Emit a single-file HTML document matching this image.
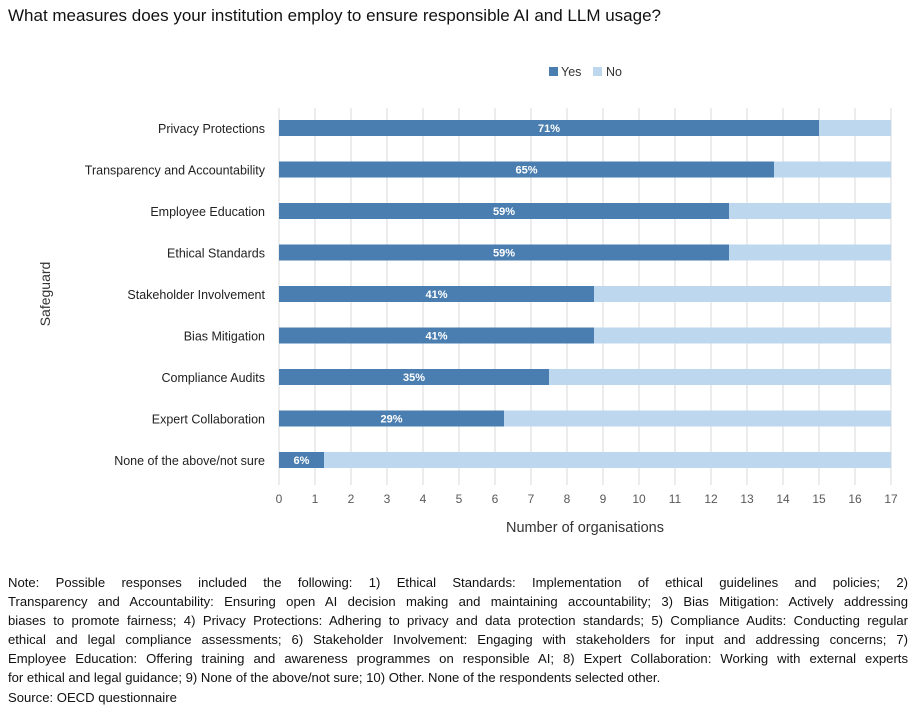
<!DOCTYPE html>
<html><head><meta charset="utf-8"><style>
body{margin:0;background:#fff;width:920px;height:728px;overflow:hidden;font-family:"Liberation Sans",sans-serif;}
#title{position:absolute;left:8px;top:6px;font-size:17px;color:#111;}
#note{position:absolute;left:8px;top:573px;width:900px;font-size:13.1px;line-height:19.1px;color:#111;}
#note div{text-align:justify;text-align-last:justify;white-space:normal;height:19.1px;overflow:visible;}
#note div.last{text-align-last:left;}
svg{position:absolute;left:0;top:0;}
</style></head><body>
<div id="title">What measures does your institution employ to ensure responsible AI and LLM usage?</div>
<svg id="chart" width="920" height="560"></svg>
<div id="note">
<div>Note: Possible responses included the following: 1) Ethical Standards: Implementation of ethical guidelines and policies; 2)</div>
<div>Transparency and Accountability: Ensuring open AI decision making and maintaining accountability; 3) Bias Mitigation: Actively addressing</div>
<div>biases to promote fairness; 4) Privacy Protections: Adhering to privacy and data protection standards; 5) Compliance Audits: Conducting regular</div>
<div>ethical and legal compliance assessments; 6) Stakeholder Involvement: Engaging with stakeholders for input and addressing concerns; 7)</div>
<div>Employee Education: Offering training and awareness programmes on responsible AI; 8) Expert Collaboration: Working with external experts</div>
<div class="last">for ethical and legal guidance; 9) None of the above/not sure; 10) Other. None of the respondents selected other.</div>
<div class="last">Source: OECD questionnaire</div>
</div>
<script>
const categories=["Privacy Protections","Transparency and Accountability","Employee Education","Ethical Standards","Stakeholder Involvement","Bias Mitigation","Compliance Audits","Expert Collaboration","None of the above/not sure"];
const yesValues=[15,13.75,12.5,12.5,8.75,8.75,7.5,6.25,1.25];
const noValues=[2,3.25,4.5,4.5,8.25,8.25,9.5,10.75,15.75];
const pctLabels=["71%","65%","59%","59%","41%","41%","35%","29%","6%"];
const xTicks=[0,1,2,3,4,5,6,7,8,9,10,11,12,13,14,15,16,17];
const svg=document.getElementById('chart');const NS='http://www.w3.org/2000/svg';
function x(v){return 279+v*36;}
function y(i){return 128+i*41.5;}
function mk(t,a,txt){const e=document.createElementNS(NS,t);for(const k in a)e.setAttribute(k,a[k]);if(txt!==undefined)e.textContent=txt;svg.appendChild(e);return e;}
const ff='"Liberation Sans",sans-serif';
xTicks.forEach(v=>{
 const g=mk('line',{x1:x(v),x2:x(v),y1:108,y2:485,stroke:'#d9d9d9','stroke-width':1});
 
 
 const t=mk('text',{x:x(v),y:503,'text-anchor':'middle','font-size':12,fill:'#595959','font-family':ff},v);
 
 
});
categories.forEach((c,i)=>{
 const cy=y(i);
 const b1=mk('rect',{x:x(0),y:cy-8,width:x(yesValues[i])-x(0),height:16,fill:'#4a7eb0'});
 
 
 const b2=mk('rect',{x:x(yesValues[i]),y:cy-8,width:x(yesValues[i]+noValues[i])-x(yesValues[i]),height:16,fill:'#bdd7ee'});
 
 
 const l=mk('text',{x:(x(0)+x(yesValues[i]))/2,y:cy+4,'text-anchor':'middle','font-size':11,'font-weight':'bold',fill:'#fff','font-family':ff},pctLabels[i]);
 
 
 const t=mk('text',{x:265,y:cy+5,'text-anchor':'end','font-size':12.5,fill:'#222','font-family':ff},c);
 
 
});
const xt=mk('text',{x:585,y:532,'text-anchor':'middle','font-size':14.5,fill:'#333','font-family':ff},'Number of organisations');


const yt=mk('text',{x:0,y:0,'text-anchor':'middle','font-size':14,fill:'#333','font-family':ff,transform:'translate(50,294) rotate(-90)'},'Safeguard');


const r1=mk('rect',{x:549,y:67,width:9,height:9,fill:'#4a7eb0'});


const t1=mk('text',{x:561,y:76,'font-size':12.5,fill:'#333','font-family':ff},'Yes');


const r2=mk('rect',{x:593,y:67,width:9,height:9,fill:'#bdd7ee'});


const t2=mk('text',{x:606,y:76,'font-size':12.5,fill:'#333','font-family':ff},'No');


</script>
</body></html>
